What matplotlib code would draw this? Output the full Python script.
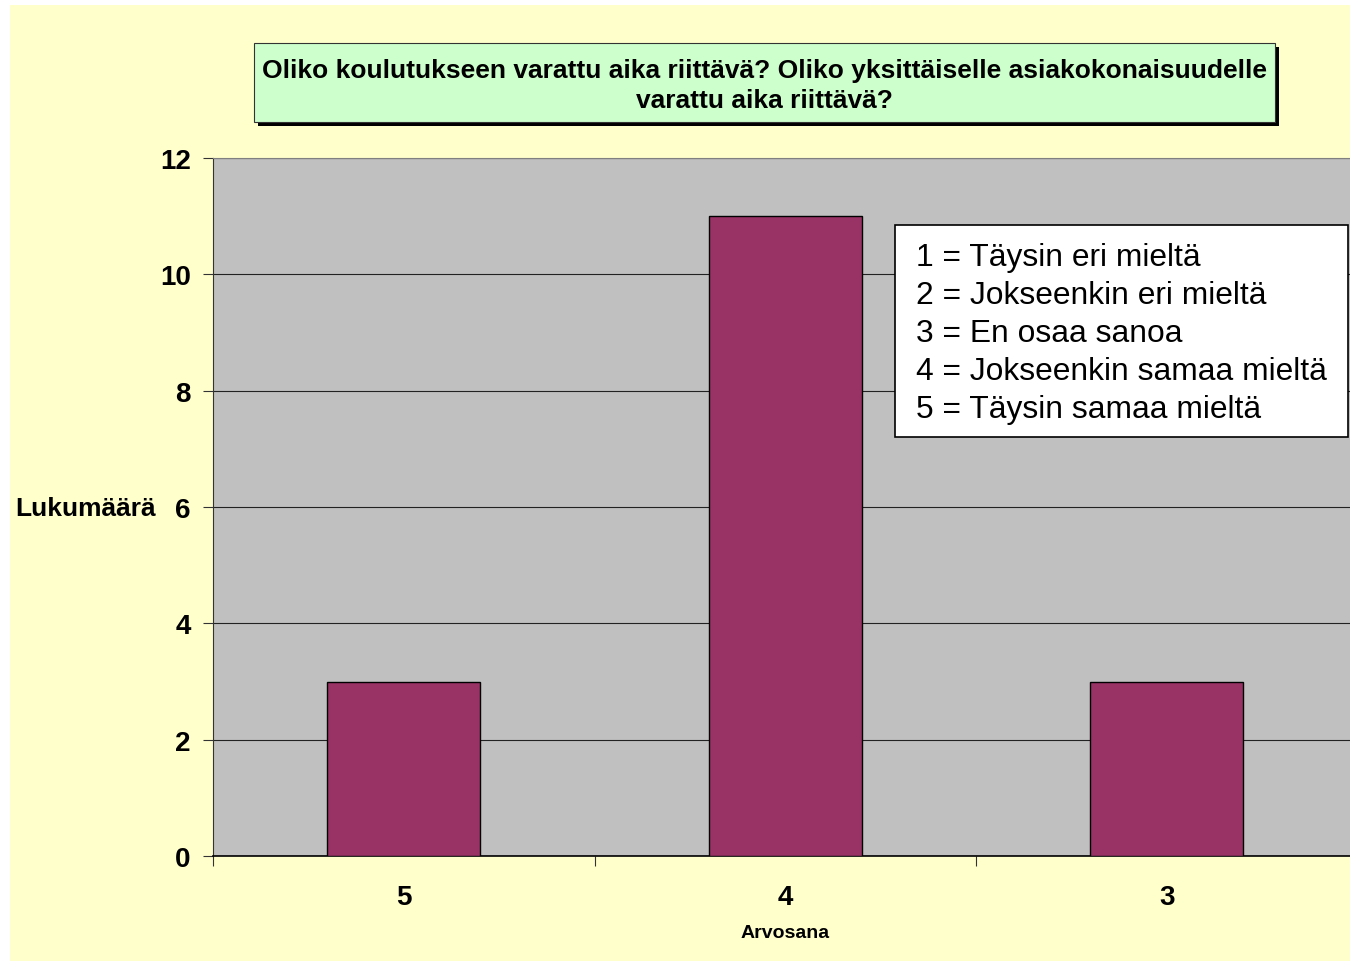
import matplotlib.pyplot as plt
from matplotlib.patches import Rectangle

# survey answers
categories = ['5', '4', '3']
counts = [3, 11, 3]
legend_lines = ['1 = Täysin eri mieltä', '2 = Jokseenkin eri mieltä', '3 = En osaa sanoa',
                '4 = Jokseenkin samaa mieltä', '5 = Täysin samaa mieltä']
title = 'Oliko koulutukseen varattu aika riittävä? Oliko yksittäiselle asiakokonaisuudelle\nvarattu aika riittävä?'

plt.rcParams['font.family'] = ['Liberation Sans', 'DejaVu Sans']

W, H = 1350, 962
fig = plt.figure(figsize=(W / 100, H / 100), dpi=100, facecolor='white')

# yellow chart area
fig.patches.append(Rectangle((10 / W, 0), 1, 1 - 6 / H, transform=fig.transFigure,
                             facecolor='#FFFFCC', edgecolor='none', zorder=-5))

def fx(px):
    return px / W

def fy(py):
    return 1 - py / H

left, top, bottom = 213, 159, 857
cat_w = 381.5
ax = fig.add_axes([fx(left), fy(bottom), fx(cat_w * 3), (bottom - top) / H])
ax.set_facecolor('#C0C0C0')

x = range(len(categories))
ax.bar(x, counts, width=0.40, color='#993366', edgecolor='black', linewidth=1, zorder=3)
ax.set_xlim(-0.5, len(categories) - 0.5)
ax.set_ylim(0, 12)
ax.set_yticks(range(0, 13, 2))
ax.set_yticklabels([str(v) for v in range(0, 13, 2)], fontsize=20, fontweight='bold')
ax.yaxis.grid(True, color='#222222', linewidth=0.8)
ax.set_axisbelow(True)

ax.set_xticks([i + 0.5 for i in range(-1, len(categories))])
ax.set_xticklabels([])
ax.set_xticks(list(x), minor=True)
ax.set_xticklabels(categories, minor=True, fontsize=20, fontweight='bold')
ax.tick_params(axis='x', which='minor', length=0, pad=20)
ax.tick_params(axis='x', which='major', length=7, width=0.8, color='#333333', direction='out')
ax.tick_params(axis='y', length=7, width=0.8, color='#333333', pad=9)

for s in ['top', 'right']:
    ax.spines[s].set_color('#808080')
    ax.spines[s].set_linewidth(0.8)
ax.spines['left'].set_color('#333333')
ax.spines['bottom'].set_color('black')
ax.spines['bottom'].set_linewidth(1.2)

fig.text(fx(15), fy(509), 'Lukumäärä', fontsize=19, fontweight='bold', ha='left', va='center')
fig.text(fx(785), fy(934), 'Arvosana', fontsize=14, fontweight='bold', ha='center', va='center')

# title box with shadow
tb_l, tb_t, tb_r, tb_b = 254, 44, 1275, 123
fig.patches.append(Rectangle((fx(tb_l + 4), fy(tb_b + 4)), fx(tb_r - tb_l), (tb_b - tb_t) / H,
                             transform=fig.transFigure, facecolor='black', edgecolor='none', zorder=5))
fig.patches.append(Rectangle((fx(tb_l), fy(tb_b)), fx(tb_r - tb_l), (tb_b - tb_t) / H,
                             transform=fig.transFigure, facecolor='#CCFFCC', edgecolor='#333333',
                             linewidth=0.8, zorder=6))
fig.text(fx((tb_l + tb_r) / 2), fy(86), title, fontsize=19, fontweight='bold', ha='center',
         va='center', linespacing=1.36, zorder=7)

# legend box
lb_l, lb_t, lb_r, lb_b = 895, 226, 1348, 438
fig.patches.append(Rectangle((fx(lb_l), fy(lb_b)), fx(lb_r - lb_l), (lb_b - lb_t) / H,
                             transform=fig.transFigure, facecolor='white', edgecolor='black',
                             linewidth=1.2, zorder=8))
for i, line in enumerate(legend_lines):
    fig.text(fx(916), fy(258 + 38 * i), line, fontsize=22.9, ha='left', va='center', zorder=9)

fig.savefig('out.png', dpi=100, facecolor=fig.get_facecolor())
